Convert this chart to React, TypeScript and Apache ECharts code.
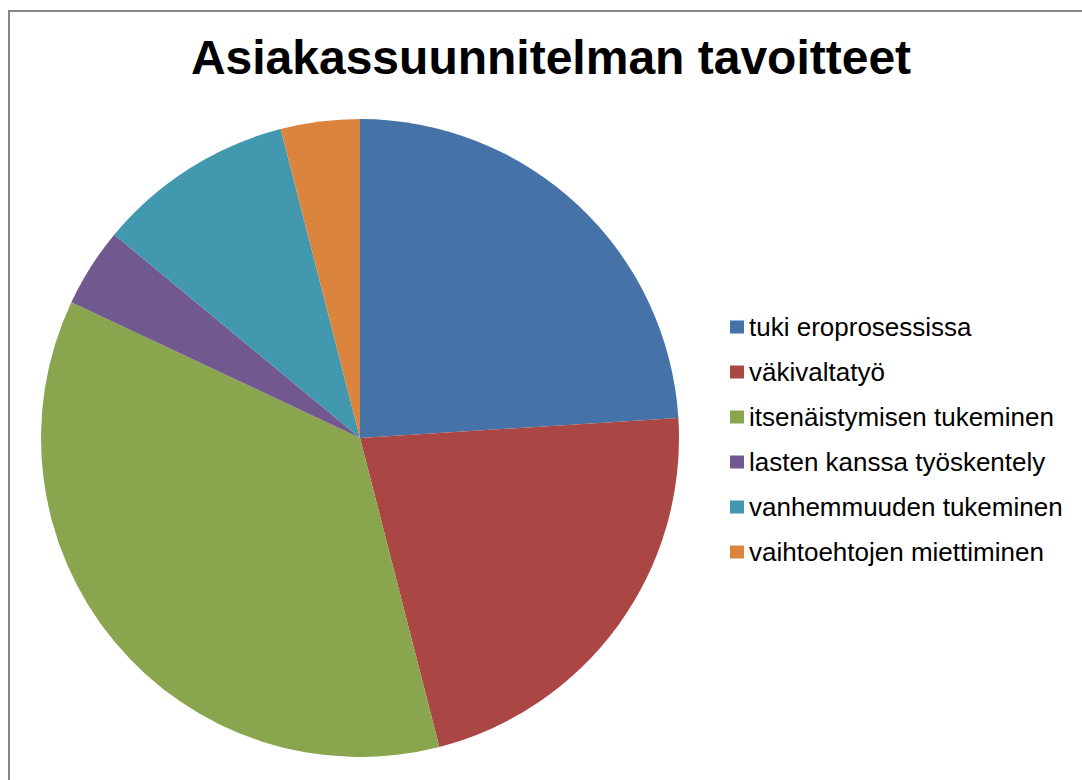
import React, { useEffect, useRef } from "react";
import * as echarts from "echarts";

const categories = [
  "tuki eroprosessissa",
  "väkivaltatyö",
  "itsenäistymisen tukeminen",
  "lasten kanssa työskentely",
  "vanhemmuuden tukeminen",
  "vaihtoehtojen miettiminen",
];
const values = [12, 11, 18, 2, 5, 2];
const colors = ["#4572A7", "#AA4643", "#89A54E", "#71588F", "#4198AF", "#DB843D"];
const titleText = "Asiakassuunnitelman tavoitteet";

const FONT = "'Liberation Sans', Arial, Helvetica, sans-serif";

export default function App() {
  const ref = useRef<HTMLDivElement>(null);
  useEffect(() => {
    if (!ref.current) return;
    const chart = echarts.init(ref.current, undefined, { renderer: "svg" });
    chart.setOption({
      animation: false,
      backgroundColor: "#ffffff",
      color: colors,
      title: {
        text: titleText,
        left: 546,
        top: 28,
        textAlign: "center",
        textStyle: { fontFamily: FONT, fontSize: 48, fontWeight: "bold", color: "#000000" },
      },
      legend: {
        orient: "vertical",
        left: 725,
        top: 309,
        icon: "rect",
        itemWidth: 14,
        itemHeight: 13,
        itemGap: 19,
        selectedMode: false,
        textStyle: { fontFamily: FONT, fontSize: 26, lineHeight: 26, color: "#000000" },
        data: categories,
      },
      graphic: [
        {
          type: "polyline",
          shape: { points: [[9, 800], [9, 11], [1100, 11]] },
          style: { stroke: "#868686", lineWidth: 2, fill: "none" },
          silent: true,
        },
      ],
      series: [
        {
          type: "pie",
          center: [360, 438],
          radius: 319,
          startAngle: 90,
          clockwise: true,
          label: { show: false },
          labelLine: { show: false },
          itemStyle: { borderWidth: 0 },
          emphasis: { disabled: true },
          data: categories.map((name, i) => ({ name, value: values[i] })),
        },
      ],
    });
    return () => chart.dispose();
  }, []);
  return (
    <div
      ref={ref}
      style={{ position: "fixed", left: 0, top: 0, width: 1082, height: 780 }}
    />
  );
}
